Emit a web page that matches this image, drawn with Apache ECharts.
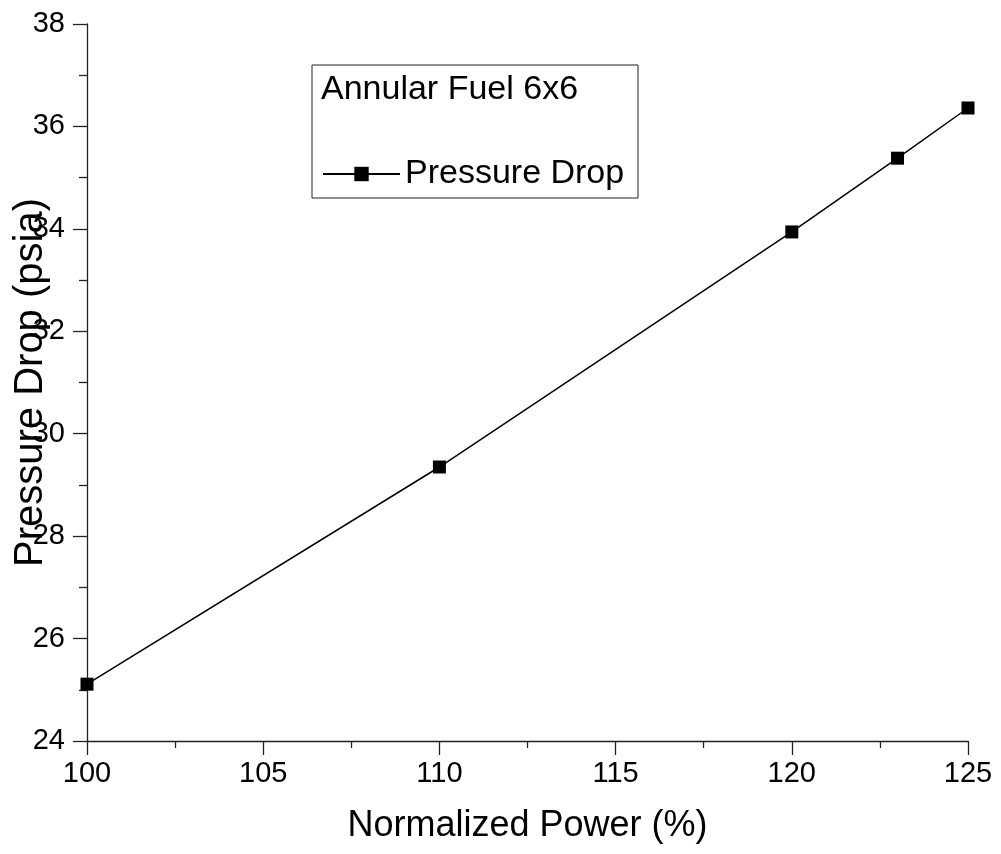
<!DOCTYPE html>
<html>
<head>
<meta charset="utf-8">
<script src="https://cdn.jsdelivr.net/npm/echarts@6/dist/echarts.min.js"></script>
<style>
    html, body { margin: 0; padding: 0; background: #fff; }
    #chart { width: 1001px; height: 854px; }
</style>
</head>
<body>
<div id="chart"></div>
<script>
// values
const power = [100, 110, 120, 123, 125];
const pressureDrop = [25.11, 29.35, 33.94, 35.38, 36.36];
const xTicks = [100, 105, 110, 115, 120, 125];
const yTicks = [24, 26, 28, 30, 32, 34, 36, 38];

const font = 'Liberation Sans, Arial, sans-serif';
const chart = echarts.init(document.getElementById('chart'));

chart.setOption({
    animation: false,
    backgroundColor: '#fff',
    title: {
        text: 'Annular Fuel 6x6',
        left: 321,
        top: 73,
        padding: 0,
        textStyle: { color: '#000', fontSize: 34, fontWeight: 'normal', fontFamily: font }
    },
    legend: {
        left: 322,
        top: 157,
        padding: 0,
        itemWidth: 77,
        itemHeight: 18,
        textStyle: { color: '#000', fontSize: 34, fontFamily: font }
    },
    // frame around the legend block
    graphic: [{
        type: 'rect',
        shape: { x: 312, y: 65, width: 326, height: 133 },
        style: { fill: 'none', stroke: '#222', lineWidth: 1 },
        z: 1
    }],
    grid: { left: 87, right: 33, top: 24, bottom: 113, outerBoundsMode: 'none' },
    xAxis: {
        type: 'value',
        min: xTicks[0],
        max: xTicks[xTicks.length - 1],
        interval: 5,
        name: 'Normalized Power (%)',
        nameLocation: 'middle',
        nameGap: 67,
        nameMoveOverlap: false,
        nameTextStyle: { color: '#000', fontSize: 36, fontFamily: font },
        axisLine: { lineStyle: { color: '#222', width: 1.3 } },
        axisTick: { inside: false, length: 14, lineStyle: { color: '#222', width: 1.3 } },
        minorTick: { show: true, splitNumber: 2, length: 7, lineStyle: { color: '#222', width: 1.3 } },
        axisLabel: { color: '#000', fontSize: 29, fontFamily: font, margin: 18 },
        splitLine: { show: false }
    },
    yAxis: {
        type: 'value',
        min: yTicks[0],
        max: yTicks[yTicks.length - 1],
        interval: 2,
        name: 'Pressure Drop (psia)',
        nameLocation: 'middle',
        nameGap: 36,
        nameMoveOverlap: false,
        nameTextStyle: { color: '#000', fontSize: 40, fontFamily: font },
        axisLine: { show: true, lineStyle: { color: '#222', width: 1.3 } },
        axisTick: { show: true, inside: false, length: 14, lineStyle: { color: '#222', width: 1.3 } },
        minorTick: { show: true, splitNumber: 2, length: 8, lineStyle: { color: '#222', width: 1.3 } },
        axisLabel: { color: '#000', fontSize: 29, fontFamily: font, margin: 22 },
        splitLine: { show: false }
    },
    series: [{
        name: 'Pressure Drop',
        type: 'line',
        data: power.map((p, i) => [p, pressureDrop[i]]),
        symbol: 'rect',
        symbolSize: 13,
        itemStyle: { color: '#000' },
        lineStyle: { color: '#000', width: 1.5 },
        z: 3
    }]
});
</script>
</body>
</html>
